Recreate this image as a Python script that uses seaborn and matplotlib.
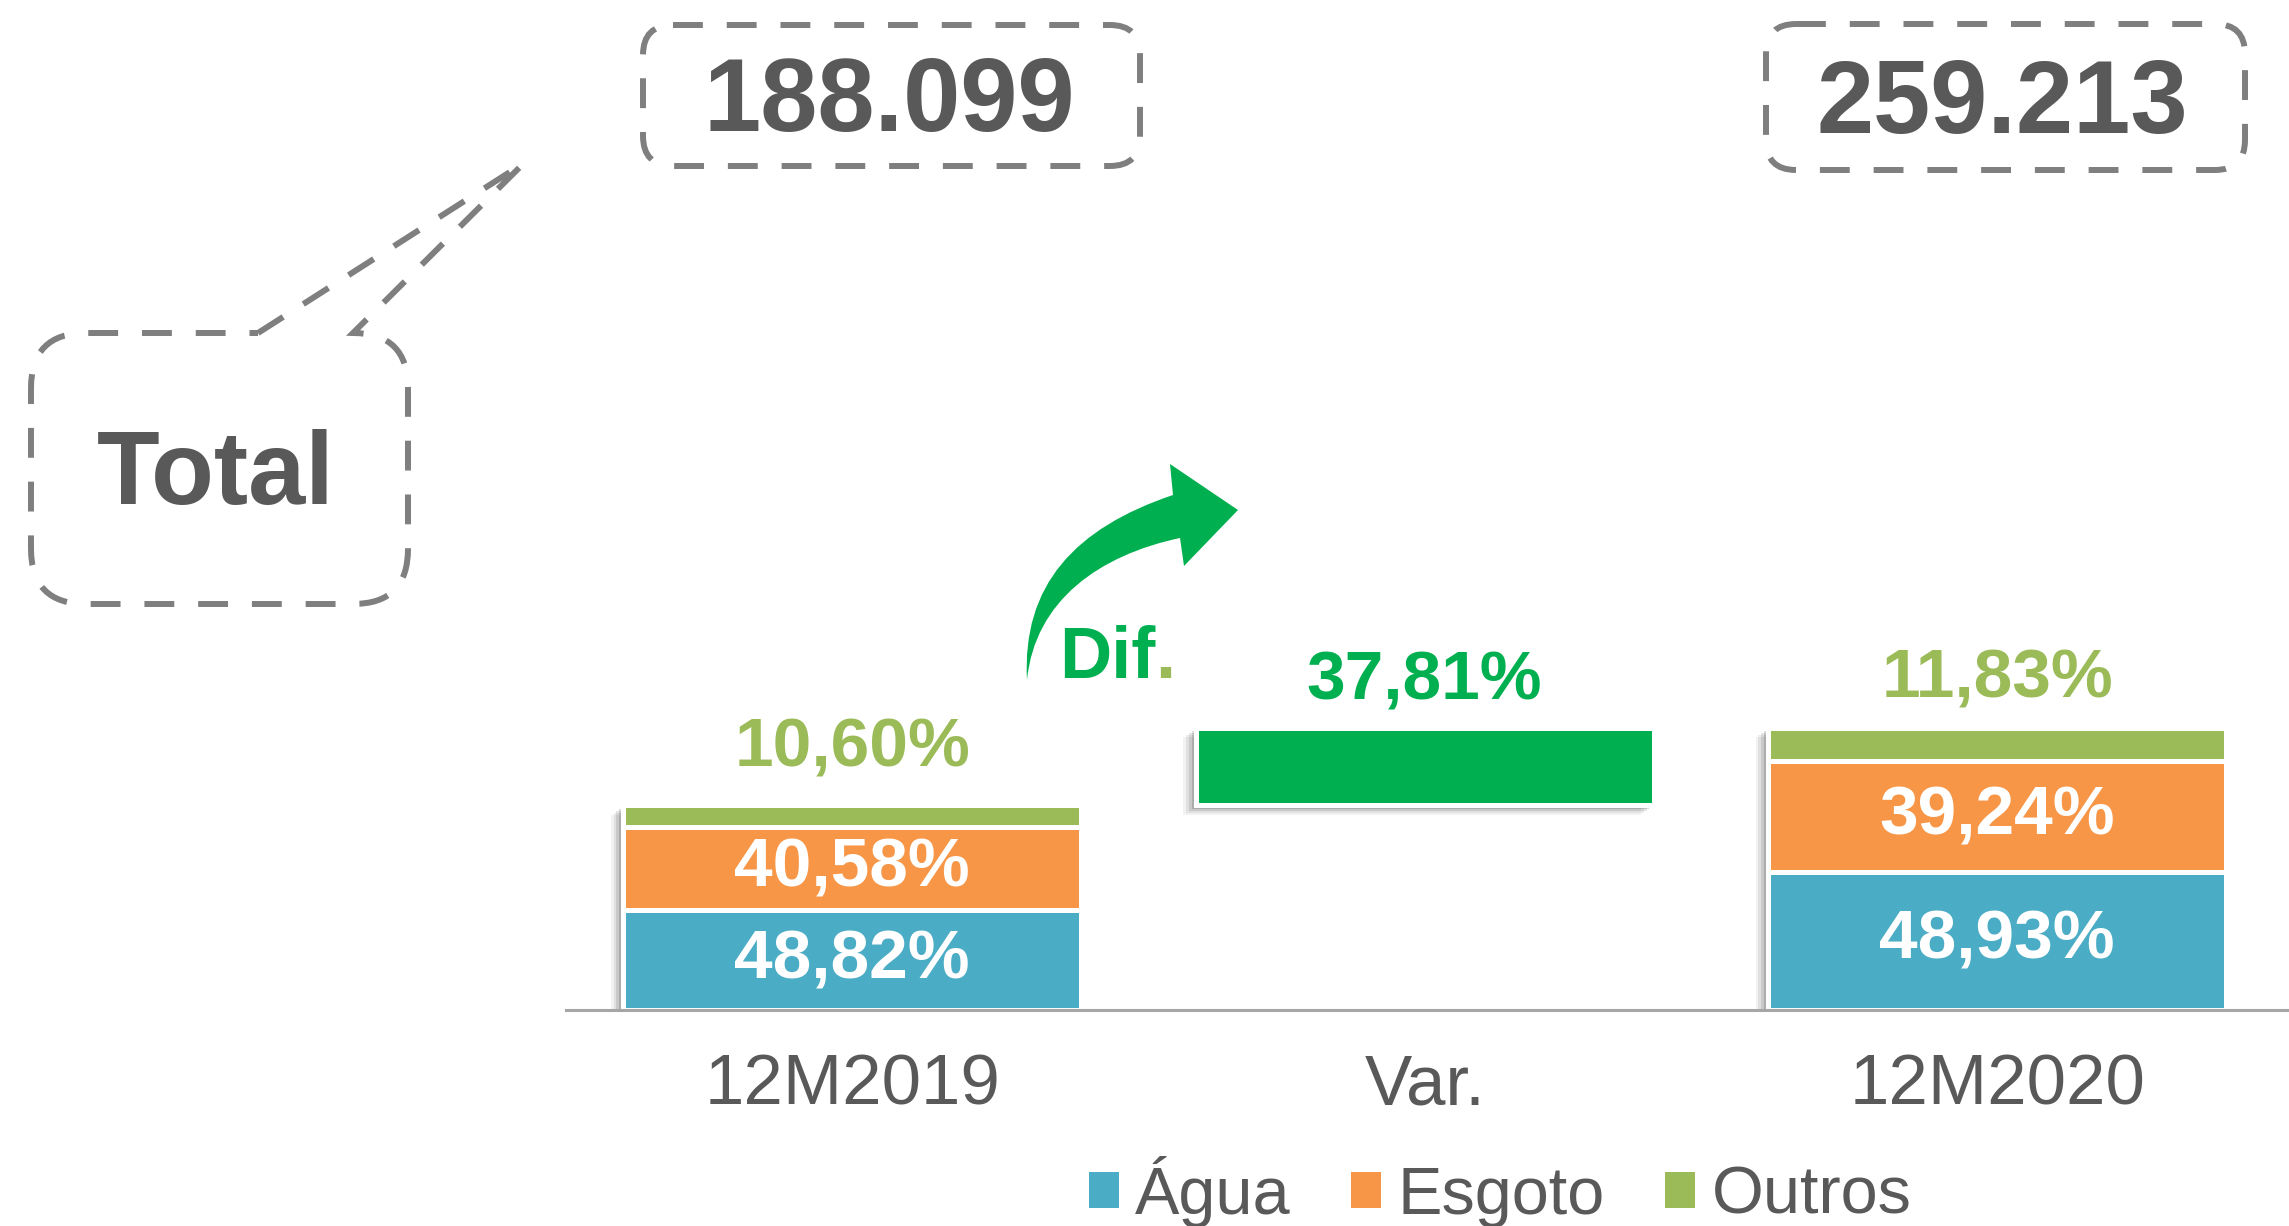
import matplotlib
matplotlib.use('Agg')
import pandas as pd
import matplotlib.pyplot as plt
import matplotlib.patheffects as pe
from matplotlib.patches import FancyBboxPatch, PathPatch, Patch
from matplotlib.path import Path
import seaborn as sns

# data
categories = ['12M2019', 'Var.', '12M2020']
periods = ['12M2019', '12M2020']
totals = [188099, 259213]
agua = [48.82, 48.93]
esgoto = [40.58, 39.24]
outros = [10.60, 11.83]
var_pct = 37.81
series = ['Água', 'Esgoto', 'Outros']

BLUE, ORANGE, LGREEN, DGREEN = '#4BACC6', '#F79646', '#9BBB59', '#00B050'
GRAY_TXT = '#595959'
GRAY_LINE = '#7F7F7F'

sns.set_theme(style='white')
plt.rcParams['font.family'] = ['Liberation Sans', 'DejaVu Sans']

W, H = 2289, 1226
fig = plt.figure(figsize=(W / 100, H / 100), dpi=100)
ax = fig.add_axes([566 / W, 216 / H, 1723 / W, 1010 / H])

df = pd.DataFrame({'periodo': periods, 'total': totals, 'agua': agua,
                   'esgoto': esgoto, 'outros': outros})
df['agua_abs'] = df['total'] * df['agua'] / 100
df['esgoto_top'] = df['total'] * (df['agua'] + df['esgoto']) / 100

# soft drop shadow to the lower left, built from a few faint layers
shadow = [pe.SimplePatchShadow(offset=(-9, -7), shadow_rgbFace='black', alpha=0.05),
          pe.SimplePatchShadow(offset=(-7, -5.5), shadow_rgbFace='black', alpha=0.07),
          pe.SimplePatchShadow(offset=(-5, -4), shadow_rgbFace='black', alpha=0.10),
          pe.SimplePatchShadow(offset=(-3, -2.5), shadow_rgbFace='black', alpha=0.14),
          pe.Normal()]
bar_kw = dict(order=categories, width=0.8, saturation=1, errorbar=None,
              edgecolor='white', linewidth=3.6, ax=ax)

# stacked bars: cumulative heights drawn from tallest to shortest
sns.barplot(data=df, x='periodo', y='total', color=LGREEN, path_effects=shadow, **bar_kw)
sns.barplot(data=df, x='periodo', y='esgoto_top', color=ORANGE, **bar_kw)
sns.barplot(data=df, x='periodo', y='agua_abs', color=BLUE, **bar_kw)

# floating variation bar
df_var = pd.DataFrame({'periodo': ['Var.'], 'dif': [totals[1] - totals[0]]})
sns.barplot(data=df_var, x='periodo', y='dif', color=DGREEN, bottom=totals[0],
            path_effects=shadow, **bar_kw)

pos = {c: i for i, c in enumerate(categories)}


def fmt(v):
    return f'{v:.2f}'.replace('.', ',') + '%'


lbl = dict(ha='center', fontsize=50, fontweight='bold')
top_offsets = [28, 22]
for k, r in df.iterrows():
    x = pos[r.periodo]
    ax.text(x, r.agua_abs / 2, fmt(r.agua), va='center', color='white', **lbl)
    ax.text(x, (r.agua_abs + r.esgoto_top) / 2, fmt(r.esgoto), va='center', color='white', **lbl)
    ax.annotate(fmt(r.outros), (x, r.total), xytext=(0, top_offsets[k]),
                textcoords='offset points', va='baseline', color=LGREEN, **lbl)
ax.annotate(fmt(var_pct), (pos['Var.'], totals[1]), xytext=(0, 20),
            textcoords='offset points', va='baseline', color=DGREEN, **lbl)

ax.set_xlim(-0.5, 2.51)
ax.set_ylim(0, 927500)
ax.set_yticks([])
ax.set_xlabel('')
ax.set_ylabel('')
sns.despine(ax=ax, left=True)
ax.spines['bottom'].set_color('#A6A6A6')
ax.spines['bottom'].set_linewidth(2.2)
ax.tick_params(axis='x', length=0, pad=31, labelsize=51, labelcolor=GRAY_TXT)

handles = [Patch(facecolor=c, edgecolor='none', label=s)
           for c, s in zip([BLUE, ORANGE, LGREEN], series)]
fig.legend(handles=handles, loc='center', bbox_to_anchor=(1500 / W, 1 - 1192 / H),
           ncol=3, frameon=False, fontsize=48, labelcolor=GRAY_TXT,
           handlelength=0.45, handleheight=0.45, handletextpad=0.25,
           columnspacing=0.9, borderpad=0)

# overlay in pixel coordinates for the slide decorations
ov = fig.add_axes([0, 0, 1, 1], zorder=5)
ov.set_xlim(0, W)
ov.set_ylim(H, 0)
ov.axis('off')

dash = (0, (5, 4))
box_kw = dict(fc='none', ec=GRAY_LINE, lw=4.3, ls=dash)
num_kw = dict(ha='center', va='baseline', fontsize=74, fontweight='bold', color=GRAY_TXT)

ov.add_patch(FancyBboxPatch((643, 25), 497, 141, boxstyle='round,pad=0,rounding_size=30', **box_kw))
ov.text(889, 131, f'{totals[0]:,}'.replace(',', '.'), **num_kw)
ov.add_patch(FancyBboxPatch((1766, 24), 479, 146, boxstyle='round,pad=0,rounding_size=30', **box_kw))
ov.text(2002, 133, f'{totals[1]:,}'.replace(',', '.'), **num_kw)

# "Total" callout box
x0, x1, y0, y1, r = 31, 408, 333, 604, 55
verts = [(258, y0), (524, 163), (x1 - r, y0),
         (x1, y0), (x1, y0 + r), (x1, y1 - r),
         (x1, y1), (x1 - r, y1), (x0 + r, y1),
         (x0, y1), (x0, y1 - r), (x0, y0 + r),
         (x0, y0), (x0 + r, y0), (258, y0)]
codes = [Path.MOVETO, Path.LINETO, Path.LINETO,
         Path.CURVE3, Path.CURVE3, Path.LINETO,
         Path.CURVE3, Path.CURVE3, Path.LINETO,
         Path.CURVE3, Path.CURVE3, Path.LINETO,
         Path.CURVE3, Path.CURVE3, Path.LINETO]
ov.add_patch(PathPatch(Path(verts, codes), **box_kw))
ov.text(216, 504, 'Total', **num_kw)

# curved green arrow
arrow = Path([(1027, 680), (1022, 585), (1075, 528), (1173, 495),
              (1170, 464), (1238, 510), (1184, 566), (1180, 538),
              (1100, 555), (1035, 600), (1027, 680), (1027, 680)],
             [Path.MOVETO, Path.CURVE4, Path.CURVE4, Path.CURVE4,
              Path.LINETO, Path.LINETO, Path.LINETO, Path.LINETO,
              Path.CURVE4, Path.CURVE4, Path.CURVE4, Path.CLOSEPOLY])
ov.add_patch(PathPatch(arrow, fc=DGREEN, ec='none'))
dif = ov.text(1059, 678, 'Dif', ha='left', va='baseline', fontsize=52,
              fontweight='bold', color=DGREEN)
ov.annotate('.', xy=(1, 0), xycoords=dif, ha='left', va='bottom', fontsize=52,
            fontweight='bold', color=LGREEN)

fig.savefig('out.png', dpi=100)
